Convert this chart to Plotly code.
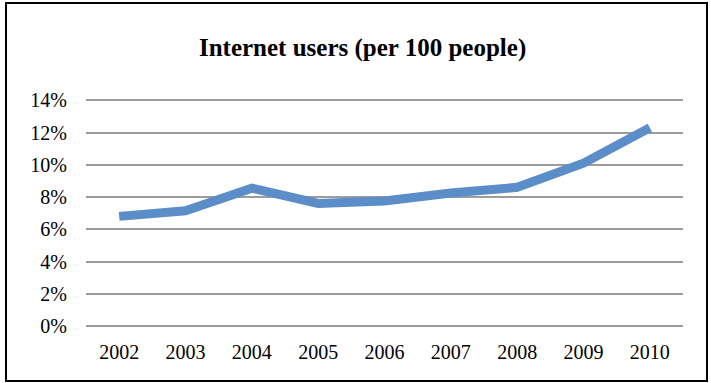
import plotly.graph_objects as go

years = ["2002", "2003", "2004", "2005", "2006", "2007", "2008", "2009", "2010"]
users = [6.8, 7.15, 8.55, 7.6, 7.75, 8.25, 8.6, 10.1, 12.3]  # на 100 человек, %
y_ticks = [0, 2, 4, 6, 8, 10, 12, 14]
y_labels = [f"{v}%" for v in y_ticks]

W, H = 711, 383
L, R, T, B = 86, 28, 99, 57
pw, ph = W - L - R, H - T - B

figure = go.Figure()
figure.add_trace(go.Scatter(x=years, y=users, mode="lines",
                            line={'color': "#5B8EC8", 'width': 9},
                            showlegend=False,
                            ))

figure.update_layout(
    width=W,
    height=H,
    margin={'l': L, 'r': R, 't': T, 'b': B},
    paper_bgcolor="white",
    plot_bgcolor="white",
    font={
        'family': "Liberation Serif",
        'size': 20,
        'color': "black",
    },
    title={
        'text': "<b>Internet users (per 100 people)</b>",
        'font': {'size': 25},
        'x': 0.51,
        'xanchor': "center",
        'y': 1 - 47 / H,
        'yanchor': "middle",
    },
    xaxis={
        'type': "category",
        'range': [-0.5, len(years) - 0.5],
        'showgrid': False,
        'showline': False,
        'ticks': "",
        'ticklabelstandoff': 12,
    },
    yaxis={
        'range': [0, 14.08],
        'tickvals': y_ticks,
        'ticktext': y_labels,
        'showgrid': True,
        'gridcolor': "#9C9C9C",
        'gridwidth': 2,
        'zeroline': True,
        'zerolinecolor': "#9C9C9C",
        'zerolinewidth': 2,
        'ticks': "",
        'ticklabelstandoff': 18,
    },
    shapes=[{
        'type': "rect",
        'xref': "paper",
        'yref': "paper",
        'x0': (6 - L) / pw,
        'x1': (707 - L) / pw,
        'y0': -(381 - T - ph) / ph,
        'y1': (H - 3 - B) / ph,
        'line': {'color': "black", 'width': 2},
    }],
)

figure.write_html("out.html", config={'displayModeBar': False},
                  post_script="document.body.style.margin = '0';")
